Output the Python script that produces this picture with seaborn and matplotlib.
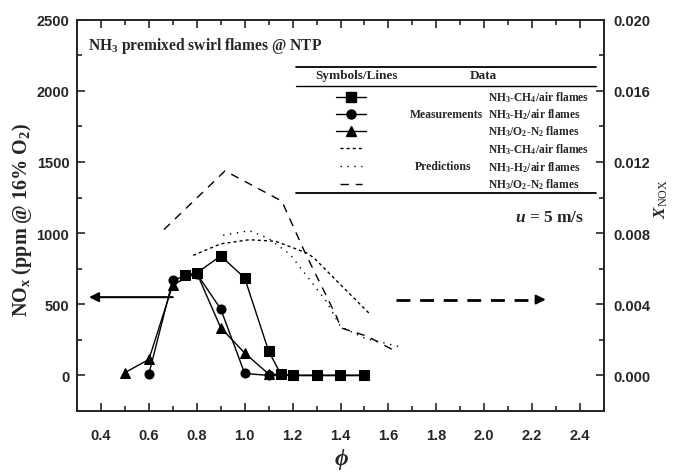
import numpy as np
import pandas as pd
import matplotlib
matplotlib.use('Agg')
import matplotlib.pyplot as plt
from matplotlib.lines import Line2D
import seaborn as sns

# measured NOx (ppm @ 16% O2)
phi_ch4 = [0.75, 0.8, 0.9, 1.0, 1.1, 1.15, 1.2, 1.3, 1.4, 1.5]
nox_ch4 = [708, 720, 840, 685, 171, 12, 0, 0, 0, 0]
phi_h2 = [0.6, 0.7, 0.8, 0.9, 1.0, 1.1, 1.2, 1.3, 1.4, 1.5]
nox_h2 = [10, 673, 715, 467, 14, 0, 0, 0, 0, 0]
phi_o2 = [0.5, 0.6, 0.7, 0.8, 0.9, 1.0, 1.1, 1.2, 1.3, 1.4, 1.5]
nox_o2 = [20, 112, 638, 720, 335, 157, 10, 0, 0, 0, 0]

# predicted NOx mole fraction
phi_ch4_p = [0.785, 0.9, 1.02, 1.13, 1.26, 1.29, 1.4, 1.525]
xnox_ch4_p = [0.00675, 0.0074, 0.00763, 0.00754, 0.00688, 0.0066, 0.0051, 0.00342]
phi_h2_p = [0.91, 1.02, 1.1, 1.19, 1.26, 1.34, 1.4, 1.5, 1.65]
xnox_h2_p = [0.00788, 0.00814, 0.0077, 0.0068, 0.00558, 0.00418, 0.00275, 0.0021, 0.0016]
phi_o2_p = [0.663, 0.918, 1.155, 1.25, 1.386, 1.4, 1.51, 1.63]
xnox_o2_p = [0.0082, 0.0115, 0.0098, 0.00696, 0.00324, 0.00268, 0.00221, 0.00136]

sns.set_style('ticks')
plt.rcParams['mathtext.fontset'] = 'custom'
plt.rcParams['mathtext.rm'] = 'Liberation Serif:bold'
plt.rcParams['mathtext.bf'] = 'Liberation Serif:bold'
plt.rcParams['mathtext.it'] = 'Liberation Serif:italic:bold'
plt.rcParams['mathtext.sf'] = 'Liberation Serif'
plt.rcParams['mathtext.tt'] = 'Liberation Serif:italic'

fig = plt.figure(figsize=(6.83, 4.77), dpi=100)
ax = fig.add_axes([77/683, 65/477, 527/683, 391.3/477])
ax2 = ax.twinx()

meas = [(phi_ch4, nox_ch4, 's'), (phi_h2, nox_h2, 'o'), (phi_o2, nox_o2, '^')]
for xs, ys, m in meas:
    sns.lineplot(x=xs, y=ys, ax=ax, color='black', lw=1, marker=m,
                 markersize=6.5, markeredgecolor='black', sort=False)

preds = [(phi_ch4_p, xnox_ch4_p, (0, (2.2, 2.2))),
         (phi_h2_p, xnox_h2_p, (0, (1, 4))),
         (phi_o2_p, xnox_o2_p, (0, (6, 5)))]
for xs, ys, ls in preds:
    sns.lineplot(x=xs, y=ys, ax=ax2, color='black', lw=1, linestyle=ls, sort=False)

ax.set_xlim(0.3, 2.5)
ax.set_ylim(-240, 2500)
ax2.set_ylim(-240 * 0.02 / 2500, 0.02)
ax.set_xticks(np.arange(0.4, 2.41, 0.2))
ax.set_xticks(np.arange(0.3, 2.51, 0.1), minor=True)
ax.set_yticks(np.arange(0, 2501, 500))
ax.set_yticks(np.arange(-250, 2501, 250), minor=True)
ax2.set_yticks(np.arange(0, 0.0201, 0.004))
ax2.set_yticks(np.arange(-0.002, 0.0201, 0.002), minor=True)
ax.set_xticklabels([f'{v:.1f}' for v in np.arange(0.4, 2.41, 0.2)])
ax2.set_yticklabels([f'{v:.3f}' for v in np.arange(0, 0.0201, 0.004)])

for a in (ax, ax2):
    a.tick_params(which='both', direction='in', width=1.2, top=True)
    a.tick_params(which='major', length=6, labelsize=10.5)
    a.tick_params(which='minor', length=3.5)
    for lab in a.get_xticklabels() + a.get_yticklabels():
        lab.set_fontfamily('Liberation Sans')
        lab.set_fontweight('bold')
    for s in a.spines.values():
        s.set_linewidth(1.3)
ax.tick_params(axis='y', right=False, pad=5.5)
ax.tick_params(axis='x', pad=12)
ax2.tick_params(axis='x', top=False, bottom=False)
ax2.tick_params(axis='y', pad=7)

serif = dict(fontfamily='Liberation Serif', fontweight='bold')
fig.text(341/683, 1 - 460/477, 'ϕ', fontsize=17, ha='center', va='center',
         family=['Liberation Serif', 'DejaVu Serif'], fontweight='bold', fontstyle='italic')
fig.text(22/683, 1 - 220/477, r'NO$_\mathrm{x}$ (ppm @ 16% O$_2$)', fontsize=14.5,
         rotation=90, ha='center', va='center', **serif)
fig.text(661/683, 1 - 199/477, r'$\mathit{X}_{\mathsf{NOX}}$', fontsize=12.5,
         rotation=90, ha='center', va='center')

ax.text(0.02, 0.935, r'NH$_3$ premixed swirl flames @ NTP', transform=ax.transAxes,
        fontsize=11.2, va='center', ha='left', **serif)

# table-style legend, drawn in axes fraction
def fx(px):
    return (px - 77) / 527

def fy(py):
    return (412 - py) / 391.3

for py, lw in [(67.5, 1.3), (86.5, 1.0), (194, 1.3)]:
    ax.add_line(Line2D([fx(296), fx(596)], [fy(py), fy(py)], transform=ax.transAxes,
                       color='black', lw=lw))
ax.text(fx(357), fy(76.5), 'Symbols/Lines', transform=ax.transAxes, fontsize=9.5,
        ha='center', va='center', **serif)
ax.text(fx(483), fy(76.5), 'Data', transform=ax.transAxes, fontsize=9.5,
        ha='center', va='center', **serif)
row_y = [97.7, 115, 131.7, 149.3, 167.3, 185]
names = [r'NH$_3$-CH$_4$/air flames', r'NH$_3$-H$_2$/air flames', r'NH$_3$/O$_2$-N$_2$ flames']
for i, py in enumerate(row_y):
    ax.text(fx(488), fy(py), names[i % 3], transform=ax.transAxes, fontsize=8.3,
            ha='left', va='center', **serif)
    if i < 3:
        ax.add_line(Line2D([fx(336), fx(351), fx(366)], [fy(py)] * 3, transform=ax.transAxes,
                           color='black', lw=1, marker=meas[i][2], markersize=6.5,
                           markevery=[1], markerfacecolor='black'))
    else:
        ax.add_line(Line2D([fx(340), fx(362)], [fy(py), fy(py)], transform=ax.transAxes,
                           color='black', lw=1, linestyle=preds[i - 3][2]))
ax.text(fx(446.7), fy(115), 'Measurements', transform=ax.transAxes, fontsize=8.5,
        ha='center', va='center', **serif)
ax.text(fx(443), fy(167.3), 'Predictions', transform=ax.transAxes, fontsize=8.5,
        ha='center', va='center', **serif)

ax.text(fx(584), fy(218), r'$\mathit{u}$ = 5 m/s', transform=ax.transAxes, fontsize=12.5,
        ha='right', va='center', **serif)

# arrows pointing to the axes
ax.annotate('', xy=(0.35, 550), xytext=(0.70, 550),
            arrowprops=dict(arrowstyle='-|>', color='black', lw=1.5,
                            mutation_scale=14, shrinkA=0, shrinkB=0))
ax.plot([1.63, 2.22], [533, 533], color='black', lw=2, linestyle=(0, (5, 3.5)))
ax.annotate('', xy=(2.257, 533), xytext=(2.215, 533),
            arrowprops=dict(arrowstyle='-|>', color='black', lw=1.5,
                            mutation_scale=14, shrinkA=0, shrinkB=0))

fig.savefig('out.png', dpi=100)
